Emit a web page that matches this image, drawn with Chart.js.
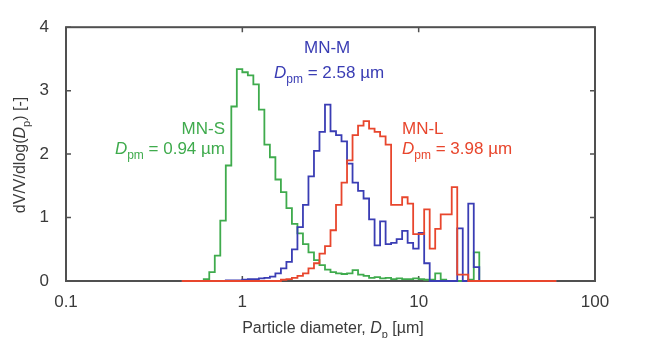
<!DOCTYPE html>
<html>
<head>
<meta charset="utf-8">
<script src="https://cdn.jsdelivr.net/npm/chart.js@4.4.1/dist/chart.umd.min.js"></script>
<style>
  html, body { margin: 0; padding: 0; background: #fff; }
</style>
</head>
<body>
<canvas id="psdChart" width="648" height="338"></canvas>
<script>
/* ------------------------------------------------------------
   Particle size distributions, MN-S / MN-M / MN-L
   channels are log-spaced, 32 per decade, first channel index -11 (~0.45 um)
   ------------------------------------------------------------ */
var BINS_PER_DECADE = 32;
var FIRST_BIN = -11;

var xTicks = [0.1, 1, 10, 100];
var yTicks = [0, 1, 2, 3, 4];

// dV/V/dlog(Dp) per channel
var mnS = [
  0, 0, 0, 0,
  0.03, 0.14, 0.40, 0.95, 1.82, 2.75, 3.34, 3.29, 3.24, 3.10,
  2.70, 2.15, 1.95, 1.60, 1.40, 1.15, 0.90, 0.75, 0.58, 0.45,
  0.33, 0.25, 0.18, 0.14, 0.12, 0.11, 0.12, 0.17, 0.10, 0.08,
  0.05, 0.06, 0.04, 0.05, 0.03, 0.04, 0.03, 0.03, 0.04, 0.03,
  0.02, 0.02, 0.12, 0.02, 0, 0, 0, 0, 0.02, 0.45, 0,
  0, 0, 0, 0, 0, 0, 0, 0, 0, 0, 0, 0, 0
];
var mnM = [
  0, 0, 0, 0, 0, 0, 0, 0, 0.01, 0.01, 0.01,
  0.02, 0.03, 0.03, 0.04, 0.05, 0.07, 0.12, 0.20, 0.30, 0.50,
  0.85, 1.20, 1.65, 2.05, 2.35, 2.78, 2.36, 2.30, 2.20, 1.85,
  1.55, 1.42, 1.30, 0.97, 0.56, 0.94, 0.58, 0.60, 0.66, 0.79,
  0.60, 0.51, 0.76, 0.28, 0, 0, 0, 0, 0, 0.83, 0, 1.22, 0.22, 0,
  0, 0, 0, 0, 0, 0, 0, 0, 0, 0, 0, 0, 0
];
var mnL = [
  0, 0, 0, 0, 0, 0, 0, 0, 0, 0, 0, 0, 0, 0, 0, 0, 0, 0,
  0.02, 0.03, 0.05, 0.08, 0.12, 0.20, 0.28, 0.43, 0.55, 0.80,
  1.20, 1.55, 1.90, 2.30, 2.45, 2.52, 2.40, 2.35, 2.28, 2.15,
  1.20, 1.20, 1.32, 1.22, 0.74, 0.74, 1.13, 0.51, 0.82, 1.05,
  1.05, 1.48, 0.10, 0.10,
  0, 0, 0, 0, 0, 0, 0, 0, 0, 0, 0, 0, 0, 0, 0, 0
];

var GREEN = '#3fab4d';
var BLUE  = '#3a3db4';
var RED   = '#e8462d';
var AXIS  = '#505050';
var TEXT  = '#3a3a3a';
var FONT  = '"Liberation Sans", Arial, sans-serif';

// channel values -> stepped points at the lower channel edges
function toSteps(vals) {
  var pts = vals.map(function(v, i) {
    return { x: Math.pow(10, (FIRST_BIN + i) / BINS_PER_DECADE), y: v };
  });
  pts.push({ x: Math.pow(10, (FIRST_BIN + vals.length) / BINS_PER_DECADE), y: vals[vals.length - 1] });
  return pts;
}

// draw text with italic / subscript runs
function drawRuns(ctx, x, y, runs, size, color) {
  ctx.fillStyle = color;
  ctx.textBaseline = 'alphabetic';
  ctx.textAlign = 'left';
  runs.forEach(function(r) {
    var fs = r.sub ? Math.round(size * 0.7) : size;
    ctx.font = (r.it ? 'italic ' : '') + fs + 'px ' + FONT;
    ctx.fillText(r.t, x, y + (r.sub ? size * 0.3 : 0));
    x += ctx.measureText(r.t).width;
  });
  return x;
}
function runsWidth(ctx, runs, size) {
  var w = 0;
  runs.forEach(function(r) {
    var fs = r.sub ? Math.round(size * 0.7) : size;
    ctx.font = (r.it ? 'italic ' : '') + fs + 'px ' + FONT;
    w += ctx.measureText(r.t).width;
  });
  return w;
}
function dpm(val) {
  return [{ t: 'D', it: true }, { t: 'pm', sub: true }, { t: ' = ' + val + ' \u00b5m' }];
}

/* ----------------------------------------------------------
   Frame with inward ticks (drawn under the lines)
   ---------------------------------------------------------- */
var framePlugin = {
  id: 'frame',
  beforeDatasetsDraw: function(chart) {
    var ctx = chart.ctx, a = chart.chartArea;
    var xs = chart.scales.x, ys = chart.scales.y;
    ctx.save();
    ctx.strokeStyle = AXIS;
    ctx.lineWidth = 2;
    ctx.strokeRect(a.left, a.top, a.right - a.left, a.bottom - a.top);
    ctx.lineWidth = 1.5;
    ctx.beginPath();
    xTicks.forEach(function(v) {
      var px = xs.getPixelForValue(v);
      ctx.moveTo(px, a.bottom); ctx.lineTo(px, a.bottom - 5);
      ctx.moveTo(px, a.top); ctx.lineTo(px, a.top + 5);
    });
    yTicks.forEach(function(v) {
      var py = ys.getPixelForValue(v);
      ctx.moveTo(a.left, py); ctx.lineTo(a.left + 5, py);
      ctx.moveTo(a.right, py); ctx.lineTo(a.right - 5, py);
    });
    ctx.stroke();
    ctx.restore();
  }
};

/* ----------------------------------------------------------
   Labels and axis titles
   ---------------------------------------------------------- */
var labelPlugin = {
  id: 'labels',
  afterDatasetsDraw: function(chart) {
    var ctx = chart.ctx, w;
    ctx.save();

    // MN-S, right aligned against the green curve
    ctx.font = '17px ' + FONT;
    ctx.fillStyle = GREEN;
    ctx.textAlign = 'right';
    ctx.fillText('MN-S', 225, 134);
    w = runsWidth(ctx, dpm('0.94'), 17);
    drawRuns(ctx, 225 - w, 154, dpm('0.94'), 17, GREEN);

    ctx.font = '17px ' + FONT;
    ctx.fillStyle = BLUE;
    ctx.textAlign = 'left';
    ctx.fillText('MN-M', 304, 53);
    drawRuns(ctx, 274, 78, dpm('2.58'), 17, BLUE);

    ctx.font = '17px ' + FONT;
    ctx.fillStyle = RED;
    ctx.textAlign = 'left';
    ctx.fillText('MN-L', 402, 134);
    drawRuns(ctx, 402, 154, dpm('3.98'), 17, RED);

    // x title
    var xt = [{ t: 'Particle diameter, ' }, { t: 'D', it: true }, { t: 'p', sub: true }, { t: ' [\u00b5m]' }];
    w = runsWidth(ctx, xt, 16);
    drawRuns(ctx, 333 - w / 2, 333, xt, 16, TEXT);

    // y title
    var yt = [{ t: 'dV/V/dlog(' }, { t: 'D', it: true }, { t: 'p', sub: true }, { t: ') [-]' }];
    w = runsWidth(ctx, yt, 16);
    ctx.translate(25, 155);
    ctx.rotate(-Math.PI / 2);
    drawRuns(ctx, -w / 2, 0, yt, 16, TEXT);
    ctx.restore();
  }
};

function makeSet(label, vals, color) {
  return {
    label: label,
    data: toSteps(vals),
    borderColor: color,
    borderWidth: 1.8,
    pointRadius: 0,
    fill: false,
    stepped: 'before',
    clip: 4
  };
}

new Chart(document.getElementById('psdChart'), {
  type: 'line',
  data: {
    datasets: [
      makeSet('MN-L', mnL, RED),
      makeSet('MN-M', mnM, BLUE),
      makeSet('MN-S', mnS, GREEN)
    ]
  },
  options: {
    responsive: false,
    animation: false,
    layout: { padding: { top: 22, right: 53, left: 0, bottom: 0 } },
    plugins: { legend: { display: false }, tooltip: { enabled: false } },
    scales: {
      x: {
        type: 'logarithmic',
        min: 0.1, max: 100,
        afterBuildTicks: function(s) { s.ticks = xTicks.map(function(v) { return { value: v }; }); },
        afterFit: function(s) { s.height = 57; },
        grid: { display: false, drawTicks: false },
        border: { display: false },
        ticks: {
          autoSkip: false, maxRotation: 0, padding: 11,
          color: TEXT, font: { family: FONT, size: 17 },
          callback: function(v) { return String(v); }
        }
      },
      y: {
        min: 0, max: 4,
        afterFit: function(s) { s.width = 66; },
        grid: { display: false, drawTicks: false },
        border: { display: false },
        ticks: {
          stepSize: 1, padding: 17,
          color: TEXT, font: { family: FONT, size: 17 }
        }
      }
    }
  },
  plugins: [framePlugin, labelPlugin]
});
</script>
</body>
</html>
